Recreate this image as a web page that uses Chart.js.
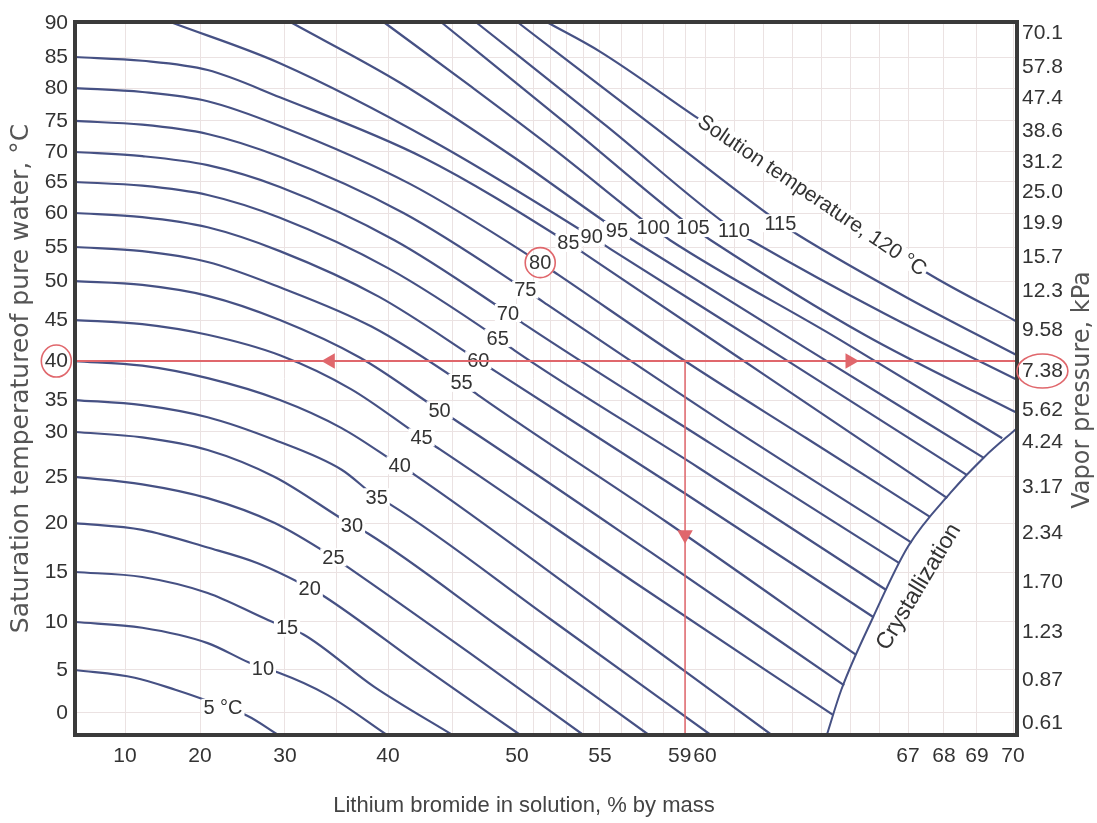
<!DOCTYPE html>
<html lang="en">
<head>
<meta charset="UTF-8" />
<title>Lithium bromide solution chart</title>
<script src="https://cdn.jsdelivr.net/npm/chart.js"></script>
<style>
  html, body { margin: 0; padding: 0; background: #fff; }
  #chart { display: block; }
</style>
</head>
<body>
<canvas id="chart" width="1097" height="823"></canvas>
<script>
// isotherms: [LiBr % by mass, saturation temperature of pure water in degC]
const iso5   = [[3.3, 5], [11.3, 4.1], [16.7, 2.7], [20.6, 1.5], [22.7, 0.6], [25.5, -0.3], [29.2, -2.56]];
const iso10  = [[3.3, 10], [12.3, 9.4], [20.9, 7.8], [25.7, 5.8], [27.4, 5.2], [29.2, 4.7], [34.1, 2.1], [39.9, -2.56]];
const iso15  = [[3.3, 15], [12.3, 14.5], [20.9, 12.9], [28, 10.2], [30.2, 9.4], [31.8, 8.7], [38.7, 3], [45, -2.56]];
const iso20  = [[3.3, 20], [12.3, 19.3], [20.9, 17.5], [26.8, 15.9], [32.4, 13.4], [33.9, 12.5], [42.5, 5.5], [50.2, -2.56]];
const iso25  = [[3.3, 25], [12.3, 24.2], [20.9, 22.7], [28.8, 20], [34.7, 16.5], [36.1, 15.5], [46.4, 6.7], [54, -2.56]];
const iso30  = [[3.3, 30], [12.3, 29.4], [20.9, 28], [28.8, 25], [36.5, 19.8], [38.1, 18.9], [48.7, 9.4], [57.3, -2.56]];
const iso35  = [[3.3, 35], [12.3, 34.2], [20.9, 32.3], [28.8, 29.1], [35.5, 25.8], [38.9, 22.8], [40.2, 22], [52, 10.3], [60.2, -2.56]];
const iso40  = [[3.3, 40], [12.3, 39.4], [20.9, 37.8], [29.4, 35], [35.5, 30.6], [40.9, 26.3], [42.1, 25.2], [55, 11.3], [62.3, -2.56]];
const iso45  = [[3.3, 45], [12.3, 44.5], [20.9, 43.2], [29.4, 40.7], [36.4, 36.4], [42.6, 29.4], [44, 28.1], [56.6, 14], [64.4, -0.2]];
const iso50  = [[3.3, 50], [12.3, 49.5], [20.9, 48.1], [29.4, 45], [37.3, 40.4], [44, 33.4], [45.4, 31.6], [57.4, 17], [64.8, 3.2]];
const iso55  = [[3.3, 55], [12.3, 54.4], [20.9, 52.8], [29.4, 49.2], [38.4, 44.2], [45.7, 37.2], [47.1, 35.5], [58.2, 20], [65.2, 6.6]];
const iso60  = [[3.3, 60], [12.3, 59.4], [20.9, 57.9], [29.4, 54.4], [39.1, 48], [47, 40.1], [48.4, 38.6], [59, 23.2], [65.8, 10.5]];
const iso65  = [[3.3, 65], [12.3, 64.4], [20.9, 62.9], [29.4, 59.3], [40, 51.9], [48.5, 42.8], [49.8, 41.3], [59.7, 26], [66.25, 13.2]];
const iso70  = [[3.3, 70], [12.3, 69.3], [20.9, 67.8], [29.4, 64.2], [40.5, 56], [49.3, 45.9], [50.5, 44.4], [60.2, 28.7], [66.7, 15.9]];
const iso75  = [[3.3, 75], [12.3, 74.4], [20.9, 72.9], [29.4, 69.2], [41.2, 60], [50.5, 48.9], [51.6, 47.3], [60.8, 31], [67.1, 18]];
const iso80  = [[3.3, 80], [12.3, 79.4], [20.9, 78], [29.4, 74.2], [41.7, 64.7], [51.4, 52.7], [52.5, 50.9], [59, 40], [63.5, 29.3], [67.6, 20.7]];
const iso85  = [[3.3, 85], [12.3, 84.4], [20.9, 82.9], [29.4, 78.6], [42.8, 69], [53.1, 55.6], [54.2, 53.8], [62.1, 38.1], [68.1, 22.7]];
const iso90  = [[16.4, 90], [29.4, 84], [43.7, 71.5], [54.5, 56.5], [55.5, 54.7], [62.9, 39.9], [68.7, 25.2]];
const iso95  = [[30.7, 90], [40.9, 80.9], [49.5, 69.5], [55.8, 57.5], [56.7, 55.7], [63.6, 41.3], [69.2, 27.1]];
const iso100 = [[39.7, 90], [46.4, 80.3], [52.3, 70.3], [57.5, 57.8], [58.3, 56], [64.6, 42.7], [69.7, 29.3]];
const iso105 = [[44.2, 90], [53, 74.5], [59.4, 57.8], [60.2, 56], [65.5, 43.2], [70.1, 33]];
const iso110 = [[46.9, 90], [55.3, 74.2], [61, 57.5], [61.7, 55.7], [66.2, 45.8], [70.1, 37.6]];
const iso115 = [[50.1, 90], [57.3, 74.7], [62.6, 58.5], [63.2, 56.8], [67, 47.8], [70.1, 40.7]];
const iso120 = [[51.9, 90], [55, 85.8], [59.6, 75.5], [63.7, 62.9], [67.5, 51.3], [70.1, 44.8]];

const isotherms = [iso5, iso10, iso15, iso20, iso25, iso30, iso35, iso40, iso45, iso50, iso55, iso60,
  iso65, iso70, iso75, iso80, iso85, iso90, iso95, iso100, iso105, iso110, iso115, iso120];
const isoLabels = ['5 °C', '10', '15', '20', '25', '30', '35', '40', '45', '50', '55', '60',
  '65', '70', '75', '80', '85', '90', '95', '100', '105', '110', '115', 'Solution temperature, 120 °C'];
// which point of each isotherm carries its label
const labelAt = [4, 4, 4, 4, 4, 4, 5, 5, 5, 5, 5, 5, 5, 5, 5, 5, 5, 3, 3, 3, 2, 2, 2, 3];

const crystallization = [[64.2, -2.56], [64.7, 2.7], [65.8, 10.5], [67, 17.6], [68.2, 23.3], [69.2, 27.2], [70.1, 30.6]];

// worked example: 7.38 kPa (40 degC), 80 degC solution -> 59 %
const exampleLevel = [[3.3, 40], [70.1, 40]];
const exampleDrop = [[59, 40], [59, -2.56]];
const arrowLeft = [[34.4, 40]];
const arrowRight = [[65, 40]];
const arrowDown = [[59, 18.8]];

const tempTicks = [0, 5, 10, 15, 20, 25, 30, 35, 40, 45, 50, 55, 60, 65, 70, 75, 80, 85, 90];
const pressureLabels = ['0.61', '0.87', '1.23', '1.70', '2.34', '3.17', '4.24', '5.62', '7.38', '9.58',
  '12.3', '15.7', '19.9', '25.0', '31.2', '38.6', '47.4', '57.8', '70.1'];
const massGrid = [10, 20, 30, 35, 40, 45, 50, 51, 52, 53, 54, 55, 56, 57, 58, 59, 60,
  61, 62, 63, 64, 65, 66, 67, 68, 69, 70];
const massLabels = [10, 20, 30, 40, 50, 55, 59, 60, 67, 68, 69, 70];

// printed scales are not linear: value -> fraction of plot width / height
const WARP = {
  x: {
    v: [3.3, 10, 20, 30, 40, 50, 55, 59, 60, 67, 68, 69, 70, 70.1],
    f: [0, 0.0531, 0.1327, 0.2229, 0.3323, 0.4692, 0.5573, 0.6476, 0.6688, 0.8843, 0.9225, 0.9575, 0.9958, 1]
  },
  y: {
    v: [-2.56, 0, 5, 10, 15, 20, 25, 30, 35, 40, 45, 50, 55, 60, 65, 70, 75, 80, 85, 90, 90.1],
    f: [0, 0.0309, 0.0912, 0.1585, 0.2286, 0.2973, 0.3619, 0.4250, 0.4698, 0.5245, 0.5820, 0.6367,
      0.6844, 0.7321, 0.7756, 0.8177, 0.8612, 0.9074, 0.9509, 0.9986, 1]
  }
};
WARP.y2 = WARP.y;
const TICKS = { x: massGrid, y: tempTicks, y2: tempTicks };

function interp(xs, ys, v) {
  let i = 1;
  while (i < xs.length - 1 && v > xs[i]) i++;
  const t = (v - xs[i - 1]) / (xs[i] - xs[i - 1]);
  return ys[i - 1] + t * (ys[i] - ys[i - 1]);
}

class WarpScale extends Chart.LinearScale {
  static id = 'warp';
  buildTicks() {
    return TICKS[this.id].map(v => ({ value: v }));
  }
  getPixelForValue(value) {
    if (value === null || value === undefined || isNaN(value)) return NaN;
    const w = WARP[this.id];
    return this.getPixelForDecimal(interp(w.v, w.f, value));
  }
  getValueForPixel(pixel) {
    const w = WARP[this.id];
    return interp(w.f, w.v, this.getDecimalForPixel(pixel));
  }
}
Chart.register(WarpScale);

const NARROW = "'Liberation Sans Narrow', 'Arial Narrow', 'Liberation Sans', Arial, sans-serif";
const SANS = "'Liberation Sans', Arial, sans-serif";
const WIDE = "'DejaVu Sans', 'Liberation Sans', Arial, sans-serif";
const CURVE = '#465184';
const RED = '#e0676c';
const GRID = '#ebe2e2';
const INK = '#3a3a3a';
const TEXT = '#333';

const toXY = pts => pts.map(p => ({ x: p[0], y: p[1] }));

const datasets = isotherms.map(pts => ({
  data: toXY(pts),
  borderColor: CURVE,
  borderWidth: 2.2,
  pointRadius: 0,
  cubicInterpolationMode: 'monotone',
  order: 3
}));
datasets.push({ data: toXY(crystallization), borderColor: CURVE, borderWidth: 2, pointRadius: 0,
  cubicInterpolationMode: 'monotone', order: 3 });
datasets.push({ data: toXY(exampleLevel), borderColor: RED, borderWidth: 2, pointRadius: 0, order: 1 });
datasets.push({ data: toXY(exampleDrop), borderColor: RED, borderWidth: 1.5, pointRadius: 0, order: 1 });
[[arrowLeft, -90], [arrowRight, 90], [arrowDown, 180]].forEach(([pts, rot]) => {
  datasets.push({ data: toXY(pts), showLine: false, pointStyle: 'triangle', pointRadius: 9,
    pointRotation: rot, pointBackgroundColor: RED, pointBorderWidth: 0, order: 0 });
});

function boxedText(ctx, text, x, y, angle) {
  const w = ctx.measureText(text).width;
  ctx.save();
  ctx.translate(x, y);
  ctx.rotate(angle);
  ctx.fillStyle = '#fff';
  ctx.fillRect(-w / 2 - 2, -9, w + 4, 18);
  ctx.fillStyle = TEXT;
  ctx.fillText(text, 0, 1);
  ctx.restore();
}

const chartDecor = {
  id: 'chartDecor',
  beforeDraw(chart) {
    const ctx = chart.ctx;
    ctx.save();
    ctx.fillStyle = '#fff';
    ctx.fillRect(0, 0, chart.width, chart.height);
    ctx.restore();
  },
  afterDatasetDraw(chart, args) {
    // dataset 0 is the last isotherm painted; label all curves now, before the red lines
    if (args.index !== 0) return;
    const ctx = chart.ctx, xs = chart.scales.x, ys = chart.scales.y;
    ctx.save();
    ctx.textAlign = 'center';
    ctx.textBaseline = 'middle';
    isotherms.forEach((pts, i) => {
      const k = labelAt[i];
      const px = xs.getPixelForValue(pts[k][0]);
      const py = ys.getPixelForValue(pts[k][1]);
      if (i === isotherms.length - 1) {
        const a = pts[k - 1], b = pts[k + 1];
        const ang = Math.atan2(ys.getPixelForValue(b[1]) - ys.getPixelForValue(a[1]),
          xs.getPixelForValue(b[0]) - xs.getPixelForValue(a[0]));
        ctx.font = '21px ' + NARROW;
        boxedText(ctx, isoLabels[i], px, py, ang);
      } else {
        ctx.font = '20px ' + NARROW;
        boxedText(ctx, isoLabels[i], px, py, 0);
      }
    });
    ctx.restore();
  },
  afterDraw(chart) {
    const ctx = chart.ctx, a = chart.chartArea, xs = chart.scales.x, ys = chart.scales.y;
    ctx.save();
    // frame
    ctx.strokeStyle = INK;
    ctx.lineWidth = 4;
    ctx.strokeRect(a.left, a.top, a.right - a.left, a.bottom - a.top);

    // crystallization label
    ctx.fillStyle = TEXT;
    ctx.font = '23px ' + SANS;
    ctx.textAlign = 'center';
    ctx.textBaseline = 'middle';
    ctx.save();
    ctx.translate(xs.getPixelForValue(67.3), ys.getPixelForValue(13.5));
    ctx.rotate(-59 * Math.PI / 180);
    ctx.fillText('Crystallization', 0, 0);
    ctx.restore();

    // right axis title, reading bottom to top
    ctx.save();
    ctx.fillStyle = '#555';
    ctx.font = '24px ' + WIDE;
    ctx.translate(1083, 390);
    ctx.rotate(-Math.PI / 2);
    ctx.fillText('Vapor pressure, kPa', 0, 0);
    ctx.restore();

    // red circles: 40 degC, 7.38 kPa and the 80 degC isotherm label
    ctx.strokeStyle = RED;
    ctx.lineWidth = 1.6;
    const y40 = ys.getPixelForValue(40);
    ctx.font = '21px ' + NARROW;
    const w40 = ctx.measureText('40').width;
    ctx.beginPath();
    ctx.ellipse(a.left - 7 - w40 / 2, y40, 15, 16, 0, 0, Math.PI * 2);
    ctx.stroke();
    const w738 = ctx.measureText('7.38').width;
    ctx.beginPath();
    ctx.ellipse(a.right + 5 + w738 / 2, y40 + 10, w738 / 2 + 5, 17, 0, 0, Math.PI * 2);
    ctx.stroke();
    const p80 = iso80[labelAt[15]];
    ctx.beginPath();
    ctx.ellipse(xs.getPixelForValue(p80[0]), ys.getPixelForValue(p80[1]), 15, 15, 0, 0, Math.PI * 2);
    ctx.stroke();
    ctx.restore();
  }
};

new Chart(document.getElementById('chart'), {
  type: 'line',
  data: { datasets },
  options: {
    responsive: false,
    animation: false,
    devicePixelRatio: 1,
    events: [],
    layout: { padding: { top: 22, left: 0, right: 0, bottom: 0 }, autoPadding: false },
    plugins: { legend: { display: false }, tooltip: { enabled: false } },
    scales: {
      x: {
        type: 'warp',
        position: 'bottom',
        min: 3.3,
        max: 70.1,
        afterFit: s => { s.height = 88; },
        border: { display: false },
        grid: { color: GRID, drawTicks: false },
        ticks: {
          autoSkip: false, maxRotation: 0, minRotation: 0, padding: 9,
          color: TEXT, font: { family: NARROW, size: 21 },
          callback: v => massLabels.includes(v) ? (v === 59 ? '59\u2002' : String(v)) : ''
        },
        title: {
          display: true,
          text: 'Lithium bromide in solution, % by mass\u2003\u2003',
          color: '#444', font: { family: SANS, size: 22 },
          padding: { top: 0, bottom: 4 }
        }
      },
      y: {
        type: 'warp',
        position: 'left',
        min: -2.56,
        max: 90.1,
        afterFit: s => { s.width = 75; },
        border: { display: false },
        grid: { color: GRID, drawTicks: false },
        ticks: {
          autoSkip: false, padding: 7, color: TEXT,
          font: { family: NARROW, size: 21 },
          callback: v => String(v)
        },
        title: {
          display: true,
          text: 'Saturation temperatureof pure water, °C',
          color: '#555', font: { family: WIDE, size: 25 },
          padding: { top: 6, bottom: 0 }
        }
      },
      y2: {
        type: 'warp',
        position: 'right',
        min: -2.56,
        max: 90.1,
        afterFit: s => { s.width = 80; },
        border: { display: false },
        grid: { display: false, drawTicks: false },
        ticks: {
          autoSkip: false, padding: 5, labelOffset: 10, color: TEXT,
          font: { family: NARROW, size: 21 },
          callback: v => pressureLabels[tempTicks.indexOf(v)]
        }
      }
    }
  },
  plugins: [chartDecor]
});
</script>
</body>
</html>
